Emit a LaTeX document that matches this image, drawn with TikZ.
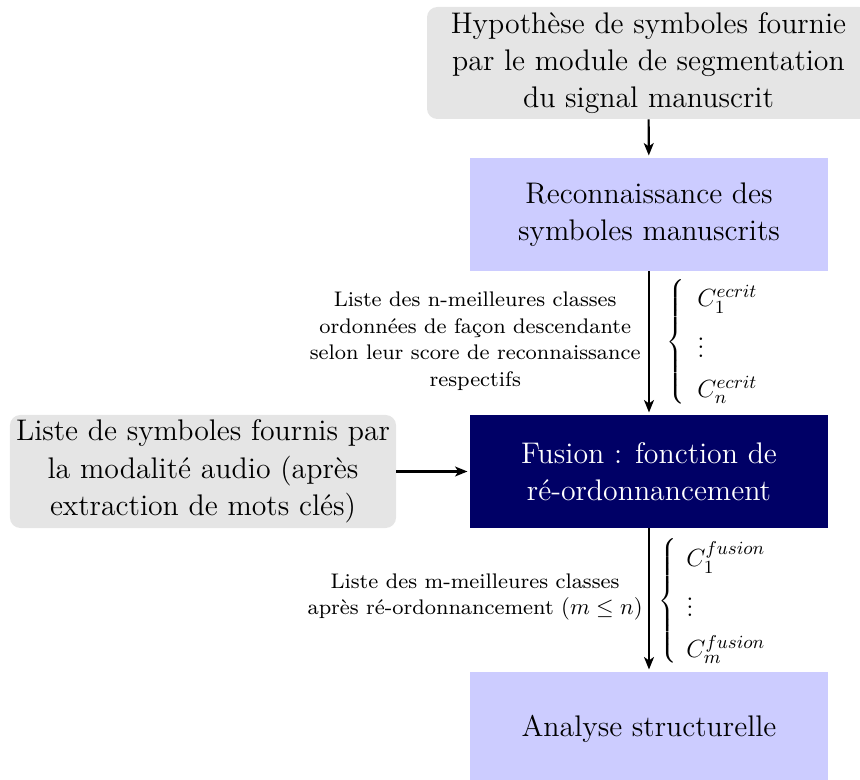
\documentclass[tikz,border=0pt]{standalone}
\usepackage{fontspec}
\usetikzlibrary{arrows.meta}
\newfontfamily\lmeight{lmroman8-regular.otf}
\definecolor{lightgraybox}{RGB}{229,229,229}
\definecolor{lightbluebox}{RGB}{204,204,255}
\definecolor{navybox}{RGB}{0,0,102}
\newcommand{\bigbrace}{$\left\{\vcenter{\hbox{\rule{0pt}{60pt}}}\right.$}
\begin{document}
\begin{tikzpicture}[x=0.4831pt,y=-0.4831pt]
\tikzset{
  box/.style={rectangle, inner sep=0pt, align=center, font=\Large,
    minimum width=173pt, minimum height=54.6pt},
  bluebox/.style={box, fill=lightbluebox},
  navyboxstyle/.style={box, fill=navybox, text=white},
  graybox/.style={box, fill=lightgraybox, rounded corners=5pt},
  smalllabel/.style={align=center, inner sep=0pt, font=\fontsize{10.2}{12.8}\lmeight},
  bracelabel/.style={inner sep=0pt, font=\fontsize{12.8}{15}\selectfont},
  bracestyle/.style={inner sep=0pt, font=\fontsize{17.5}{20}\selectfont},
  arr/.style={line width=1pt, -{Stealth[length=6pt,width=4.8pt,inset=1.6pt]}, shorten >=1pt},
}
\clip (0,0) rectangle (860,780);
\node[graybox, minimum width=214pt, minimum height=54.1pt] (top) at (648.5,63)
  {Hypothèse de symboles fournie\\par le module de segmentation\\du signal manuscrit};
\node[bluebox] (rec) at (649,214.5) {Reconnaissance des\\symboles manuscrits};
\node[navyboxstyle] (fus) at (649,471.5) {Fusion : fonction de\\ré-ordonnancement};
\node[graybox, minimum width=186.5pt] (aud) at (203,471.5)
  {Liste de symboles fournis par\\la modalité audio (après\\extraction de mots clés)};
\node[bluebox] (ana) at (649,728.5) {Analyse structurelle};

\draw[arr] (top) -- (rec);
\draw[arr] (rec) -- (fus);
\draw[arr] (aud) -- (fus);
\draw[arr] (fus) -- (ana);

\node[smalllabel, anchor=east] (lab1) at (641,341)
  {Liste des n-meilleures classes\\ordonnées de façon descendante\\selon leur score de reconnaissance\\respectifs};
\node[smalllabel, anchor=east] (lab2) at (643,597)
  {Liste des m-meilleures classes\\après ré-ordonnancement \fontsize{11}{12.8}\selectfont$(m\le n)$};

\node[bracestyle, anchor=west] (br1) at (666,342) {\bigbrace};
\node[bracelabel, anchor=west] (it1) at (697,346)
  {$\begin{array}{@{}l@{}} C_1^{ecrit}\\[4.6pt] \vdots\\[4.6pt] C_n^{ecrit}\end{array}$};
\node[bracestyle, anchor=west] (br2) at (658,601) {\bigbrace};
\node[bracelabel, anchor=west] (it2) at (686,604)
  {$\begin{array}{@{}l@{}} C_1^{fusion}\\[4.6pt] \vdots\\[4.6pt] C_m^{fusion}\end{array}$};
\end{tikzpicture}
\end{document}
